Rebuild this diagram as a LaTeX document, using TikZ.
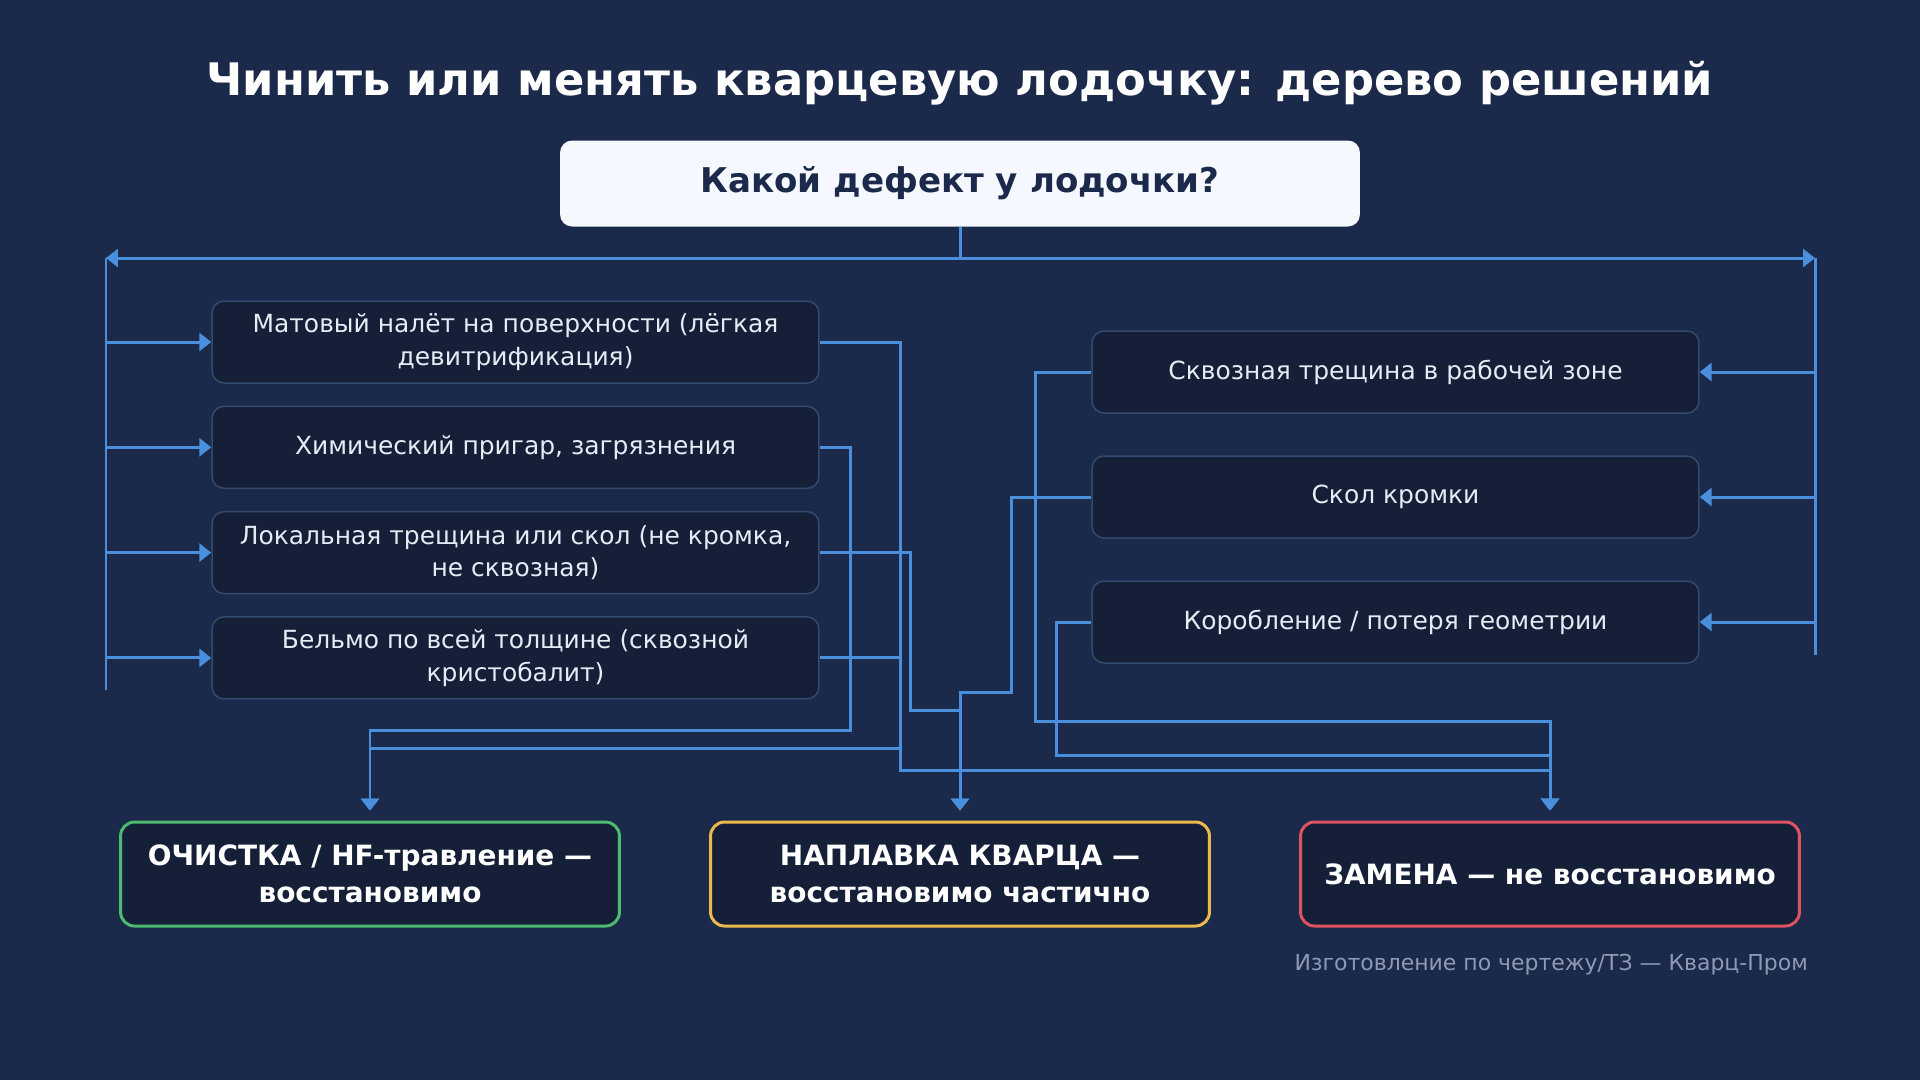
\documentclass[tikz,border=0pt]{standalone}
\usepackage{fontspec}
\setmainfont{DejaVu Sans}
\usetikzlibrary{arrows.meta,positioning,calc}
\definecolor{bgnavy}{HTML}{1B2A4A}
\definecolor{boxfill}{HTML}{152038}
\definecolor{boxline}{HTML}{34496E}
\definecolor{wireblue}{HTML}{4A8FDB}
\definecolor{txtlight}{HTML}{E6ECF5}
\definecolor{rootfill}{HTML}{F5F9FF}
\definecolor{okgreen}{HTML}{4CBB70}
\definecolor{partyellow}{HTML}{EDB94C}
\definecolor{badred}{HTML}{DE5262}
\definecolor{footgray}{HTML}{8C9AB5}

\begin{document}
\begin{tikzpicture}[x=0.02cm,y=-0.02cm,>={Triangle[length=0.24cm,width=0.36cm]}]
\tikzstyle{defect}=[draw=boxline,fill=boxfill,line width=0.85pt,rounded corners=0.24cm,minimum width=12.14cm,minimum height=1.64cm,align=center,text=txtlight,font=\fontsize{14.2}{18.7}\selectfont,inner sep=0pt]
\tikzstyle{outcome}=[fill=boxfill,line width=1.7pt,rounded corners=0.28cm,minimum width=9.98cm,minimum height=2.08cm,align=center,text=white,font=\fontsize{15.9}{20.8}\selectfont\bfseries,inner sep=0pt]
\tikzstyle{wire}=[draw=wireblue,line width=1.7pt]
\fill[bgnavy] (0,0) rectangle (1920,1080);
\node[text=white,font=\fontsize{25.5}{30}\selectfont\bfseries] (title) at (960,83) {Чинить или менять кварцевую лодочку: дерево решений};
\node[fill=rootfill,rounded corners=0.24cm,minimum width=16cm,minimum height=1.72cm,text=bgnavy,font=\fontsize{19.4}{23}\selectfont\bfseries] (root) at (960,183.5) {Какой дефект у лодочки?};
\foreach \txt [count=\i from 0] in {{Матовый налёт на поверхности (лёгкая\\девитрификация)}, {Химический пригар, загрязнения}, {Локальная трещина или скол (не кромка,\\не сквозная)}, {Бельмо по всей толщине (сквозной\\кристобалит)}} {
  \pgfmathsetmacro\yy{342+105.3*\i}
  \node[defect] (l\i) at (515.5,\yy) {\txt};
}
\foreach \txt [count=\i from 0] in {{Сквозная трещина в рабочей зоне}, {Скол кромки}, {Коробление / потеря геометрии}} {
  \pgfmathsetmacro\yy{372+125*\i}
  \node[defect] (r\i) at (1395.5,\yy) {\txt};
}
\foreach \txt/\col [count=\i from 0] in {{ОЧИСТКА / HF-травление —\\восстановимо}/okgreen, {НАПЛАВКА КВАРЦА —\\восстановимо частично}/partyellow, {ЗАМЕНА — не восстановимо}/badred} {
  \node[outcome,draw=\col] (o\i) at (370+590*\i,874) {\txt};
}
\node[anchor=east,text=footgray,font=\fontsize{12.5}{15}\selectfont] (foot) at (1814,965) {Изготовление по чертежу/ТЗ — Кварц-Пром};
\coordinate (bus) at (960,258);
\coordinate (busL) at (106,258);
\coordinate (busR) at (1815,258);
\coordinate (railL) at (106,690);
\coordinate (railR) at (1815,655);
\draw[wire] (root.south) -- (bus);
\draw[wire,->] (bus) -- (busL);
\draw[wire,->] (bus) -- (busR);
\draw[wire] (busL) -- (railL);
\draw[wire] (busR) -- (railR);
\foreach \i in {0,...,3} \draw[wire,->] (busL |- l\i) -- (l\i.west);
\foreach \i in {0,...,2} \draw[wire,->] (busR |- r\i) -- (r\i.east);
\foreach \s/\d/\cx/\ly in {l0/o0/900/748, l1/o0/850/730, l2/o1/910/710, l3/o2/900/770}
  \draw[wire,->,shorten >=0.2cm] (\s.east) -| (\cx,\ly) -| (\d.north);
\foreach \s/\d/\cx/\ly in {r0/o2/1035/721, r1/o1/1011/692, r2/o2/1056/755}
  \draw[wire,->,shorten >=0.2cm] (\s.west) -| (\cx,\ly) -| (\d.north);
\end{tikzpicture}
\end{document}
